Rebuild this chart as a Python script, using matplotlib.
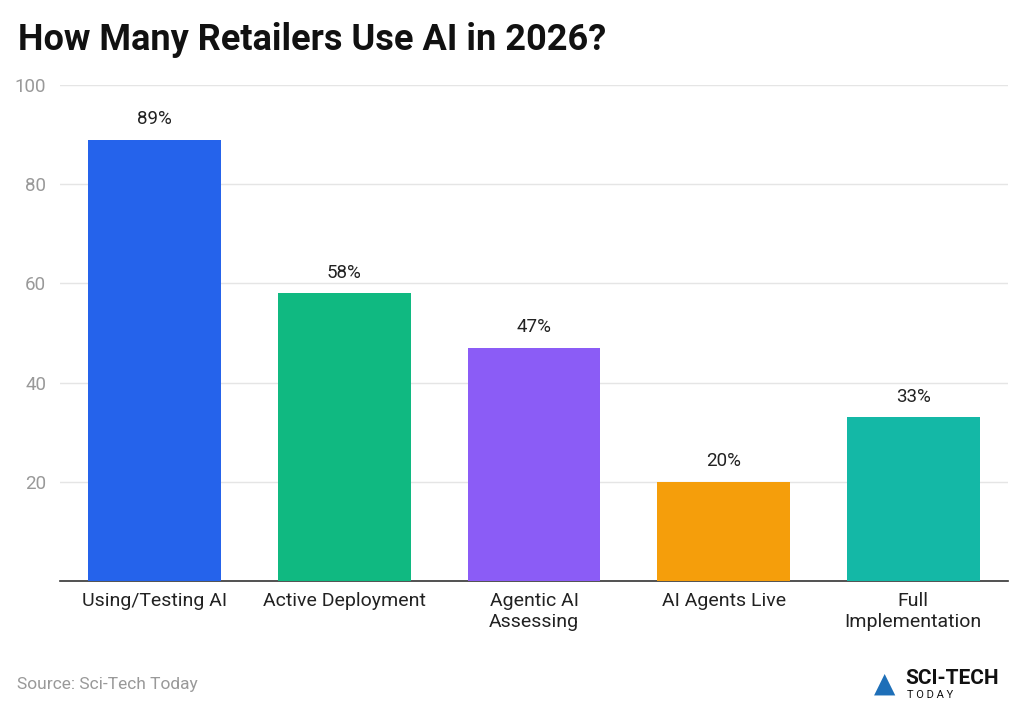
import matplotlib
matplotlib.use("Agg")
import matplotlib.pyplot as plt

plt.rcParams['font.family'] = ['Roboto', 'DejaVu Sans']

categories = ["Using/Testing AI", "Active Deployment", "Agentic AI\nAssessing", "AI Agents Live", "Full\nImplementation"]
values = [89, 58, 47, 20, 33]
colors = ["#2563EB", "#10B981", "#8B5CF6", "#F59E0B", "#14B8A6"]
yticks = [20, 40, 60, 80, 100]

fig = plt.figure(figsize=(10.23, 7.12), dpi=100)
ax = fig.add_axes([60/1023, 131/712, 948/1023, 496/712])
x = range(len(categories))
bars = ax.bar(x, values, width=0.7, color=colors, zorder=3)
for xi, v in zip(x, values):
    ax.text(xi, v + 2.3, f"{v}%", ha="center", va="bottom", fontsize=13.5, color="#222222")
ax.set_xlim(-0.5, 4.5)
ax.set_ylim(0, 100)
ax.set_yticks(yticks)
ax.set_yticklabels([str(t) for t in yticks], color="#999999", fontsize=13.5)
ax.set_xticks(list(x))
ax.set_xticklabels(categories, fontsize=14, color="#222222", linespacing=1.2)
ax.tick_params(axis="both", length=0, pad=8)
ax.tick_params(axis="y", pad=10)
ax.grid(axis="y", color="#e5e5e5", linewidth=1, zorder=0)
for s in ["top", "right", "left"]:
    ax.spines[s].set_visible(False)
ax.spines["bottom"].set_color("#333333")
ax.spines["bottom"].set_linewidth(1.2)

fig.text(18/1023, 1 - 40/712, "How Many Retailers Use AI in 2026?", fontsize=26, fontweight="bold", va="center", ha="left", color="#111111")
fig.text(17/1023, 1 - 685/712, "Source: Sci-Tech Today", fontsize=12.5, color="#999999", va="center", ha="left")
fig.text(905/1023, 1 - 678/712, "SCI-TECH", fontsize=15, fontweight="bold", color="#111111", va="center", ha="left")
fig.text(907/1023, 1 - 695/712, "T O D A Y", fontsize=8, color="#111111", va="center", ha="left")
fig.text(874/1023, 1 - 684/712, "▲", fontsize=20, color="#1e6fb8", va="center", ha="left")
fig.savefig("out.png", dpi=100)
